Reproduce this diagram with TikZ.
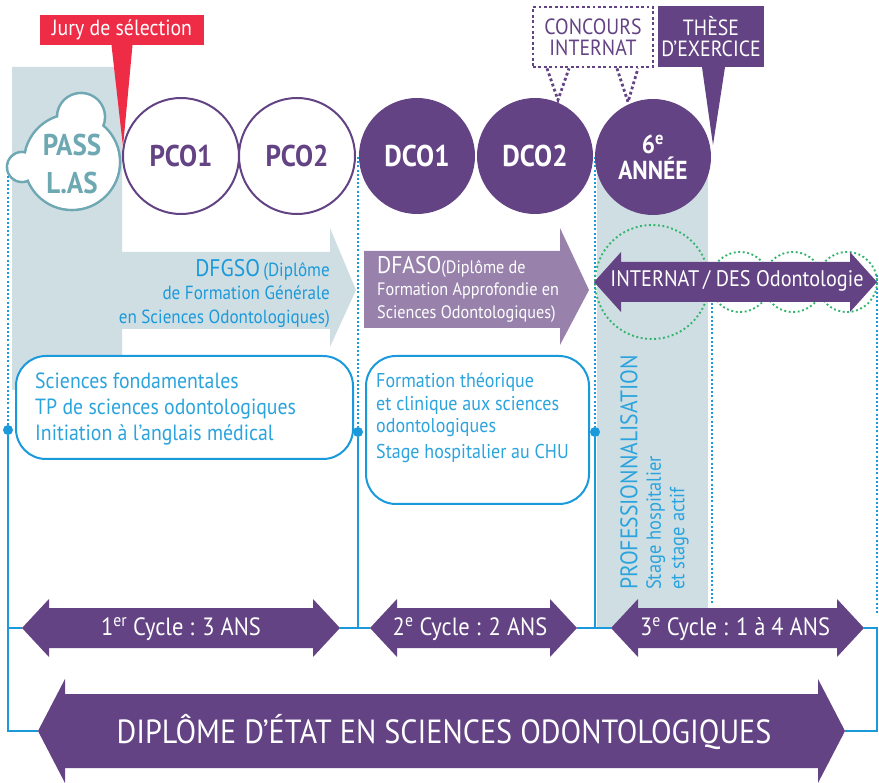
\documentclass[tikz,border=0pt]{standalone}
\usepackage{fontspec}
\setmainfont{PT Sans}[FakeStretch=0.9]
\usetikzlibrary{positioning,calc}

\definecolor{dcpurple}{HTML}{634383}
\definecolor{dclilac}{HTML}{9882AC}
\definecolor{dcgrey}{HTML}{CFDEE3}
\definecolor{dcblue}{HTML}{1B9ADB}
\definecolor{dctext}{HTML}{2BA4DE}
\definecolor{dcteal}{HTML}{6EA8B2}
\definecolor{dcred}{HTML}{EE2C46}
\definecolor{dcgreen}{HTML}{33B46E}

\newcommand{\fs}[1]{\fontsize{#1}{1.2\dimexpr#1pt\relax}\selectfont}

% double arrow: colour, left tip x, right tip x, y, head length, head half, body half
\newcommand{\dblarrow}[7]{%
	\fill[#1] (#2,#4) -- (#2+#5,#4-#6) -- (#2+#5,#4-#7) -- (#3-#5,#4-#7) -- (#3-#5,#4-#6) -- (#3,#4)
		-- (#3-#5,#4+#6) -- (#3-#5,#4+#7) -- (#2+#5,#4+#7) -- (#2+#5,#4+#6) -- cycle;}

\tikzset{
	opencirc/.style={circle, draw=dcpurple, line width=2pt, fill=white, minimum size=116pt, inner sep=0pt, text=dcpurple, font=\fs{30}\bfseries},
	fullcirc/.style={circle, fill=dcpurple, minimum size=116pt, inner sep=0pt, text=white, font=\fs{30}\bfseries},
	dotline/.style={draw=dcblue, line width=2.2pt, dash pattern=on 2pt off 2.2pt},
	greendots/.style={draw=dcgreen, line width=1.9pt, dash pattern=on 1.9pt off 2.6pt},
	purpledots/.style={draw=dcpurple, line width=2.8pt, dash pattern=on 2.8pt off 2.6pt},
	link/.style={draw=dcblue, line width=1.8pt},
	joint/.style={circle, fill=dcblue, minimum size=10pt, inner sep=0pt},
	infobox/.style={draw=dcblue, line width=2pt, fill=white, rounded corners=30pt, anchor=north west, inner sep=0pt},
	boxtext/.style={text=dctext, font=\fontsize{22}{26}\selectfont, align=left, anchor=north west, inner sep=0pt},
	arrowtext/.style={text=white, font=\fs{25}, inner sep=0pt},
	callout/.style={inner sep=0pt, align=center, font=\fontsize{22}{21}\selectfont},
}

\begin{document}
\begin{tikzpicture}[x=1pt, y=-1pt]
	\useasboundingbox (0,0) rectangle (879,783);

	% Grey bands
	\fill[dcgrey] (12,67) -- (122,67) -- (122,252) -- (330,252) -- (330,228) -- (356,290) -- (330,347)
		-- (330,329) -- (122,329) -- (122,390) -- (12,390) -- cycle;
	\fill[dcgrey] (597,156) rectangle (708,628);

	% Joints and dotted guides
	\node[joint] (j1) at (8,430) {};
	\node[joint] (j2) at (358,432) {};
	\node[joint] (j3) at (595,432) {};
	\coordinate (g1) at (8,163);
	\coordinate (g2) at (358,157);
	\coordinate (g3) at (595,157);
	\coordinate (g4t) at (712,303);
	\coordinate (g4b) at (712,603);
	\coordinate (g5t) at (877,275);
	\coordinate (g5b) at (877,615);
	\draw[dotline] (g1) -- (j1);
	\draw[dotline] (g2) -- (j2);
	\draw[dotline] (g3) -- (j3);
	\draw[dotline] (g4t) -- (g4b);
	\draw[dotline] (g5t) -- (g5b);

	% Year circles
	\node[opencirc] (pco1) at (181,156) {PCO1};
	\node[opencirc] (pco2) at (297,156) {PCO2};
	\node[fullcirc] (dco1) at (417,156) {DCO1};
	\node[fullcirc] (dco2) at (535,156) {DCO2};
	\node[fullcirc, align=center, font=\fontsize{26}{26}\selectfont\bfseries] (annee) at (653,157) {6\textsuperscript{e}\\ANNÉE};

	% PASS / L.AS cloud
	\foreach \cx/\cy/\r in {72/162/48, 81/117/24, 22/167/15}
		\draw[dcteal, line width=2.6pt] (\cx,\cy) circle[radius=\r];
	\foreach \cx/\cy/\r in {72/162/48, 81/117/24, 22/167/15}
		\fill[white] (\cx,\cy) circle[radius=\r-1.3];
	\node[text=dcteal, font=\fontsize{30}{38}\selectfont\bfseries, align=center] (pass) at (72,164) {PASS\\L.AS};

	% Internat bubbles
	\draw[greendots] (652,282) circle[radius=57];
	\foreach \cx in {740,793,847}
		\draw[greendots] (\cx,282) circle[radius=30];
	\dblarrow{dcpurple}{594}{877}{282}{27}{30}{20}
	\node[arrowtext, font=\fs{22.5}] (internat) at (737,281) {INTERNAT\,/ DES Odontologie};

	% Diploma arrows
	\fill[dclilac] (364,251) -- (560,251) -- (560,228) -- (589,290) -- (560,345) -- (560,328) -- (364,328) -- cycle;
	\node[anchor=north east, align=right, text=dcblue, font=\fontsize{19}{23.5}\selectfont, inner sep=0pt] (dfgso) at (330,259)
		{{\fs{24}DFGSO}\,(Diplôme\\de Formation Générale\\en Sciences Odontologiques)};
	\node[anchor=north west, align=left, text=white, font=\fontsize{18}{22.5}\selectfont, inner sep=0pt] (dfaso) at (377,256)
		{{\fs{24}DFASO}(Diplôme de\\Formation Approfondie en\\Sciences Odontologiques)};

	% Content boxes
	\node[infobox, minimum width=337pt, minimum height=103pt] (box1) at (15,355) {};
	\node[infobox, minimum width=223pt, minimum height=148pt] (box2) at (365,355) {};
	\node[boxtext] (txt1) at (35,373) {Sciences fondamentales\\TP de sciences odontologiques\\Initiation à l’anglais médical};
	\node[boxtext, font=\fontsize{20}{22.5}\selectfont] (txt2) at (376,373) {Formation théorique\\et clinique aux sciences\\odontologiques};
	\node[boxtext, font=\fontsize{20}{22.5}\selectfont, below=7pt of txt2.south west, anchor=north west] (txt3) {Stage hospitalier au CHU};

	% Professionnalisation
	\node[rotate=90, anchor=north west, align=left, text=dctext, inner sep=0pt, font=\fontsize{20.5}{23.5}\selectfont] (pro) at (620,590)
		{{\fs{24}PROFESSIONNALISATION}\\Stage hospitalier\\et stage actif};

	% Cycle arrows
	\coordinate (c1l) at (22,628);
	\coordinate (c1r) at (340,628);
	\coordinate (c2l) at (370,628);
	\coordinate (c2r) at (577,628);
	\coordinate (c3l) at (611,628);
	\coordinate (c3r) at (864,628);
	\coordinate (dl) at (38,731);
	\coordinate (dr) at (845,731);
	\coordinate (rc) at (877,628);
	\dblarrow{dcpurple}{22}{340}{628}{27}{29}{20}
	\dblarrow{dcpurple}{370}{577}{628}{27}{29}{20}
	\dblarrow{dcpurple}{611}{864}{628}{27}{29}{20}
	\dblarrow{dcpurple}{38}{845}{731}{27}{52}{37}
	\node[arrowtext] (cyc1) at (181,629) {1\textsuperscript{er} Cycle : 3 ANS};
	\node[arrowtext] (cyc2) at (470,629) {2\textsuperscript{e} Cycle : 2 ANS};
	\node[arrowtext] (cyc3) at (735,629) {3\textsuperscript{e} Cycle : 1 à 4 ANS};
	\node[arrowtext, font=\fs{33.5}] (dipl) at (444,732) {DIPLÔME D'ÉTAT EN SCIENCES ODONTOLOGIQUES};

	% Solid links
	\draw[link] (j1) |- (dl);
	\draw[link] (j1 |- c1l) -- (c1l);
	\draw[link] (j2) -- (j2 |- c1r);
	\draw[link] (c1r) -- (c2l);
	\draw[link] (j3) -- (j3 |- c2r);
	\draw[link] (c2r) -- (c3l);
	\draw[link] (c3r) -- (rc) |- (dr);

	% Callouts
	\node[callout, fill=dcred, text=white, minimum width=164pt, minimum height=30pt] (jury) at (122,30) {Jury de sélection};
	\coordinate (jurytip) at (123,147);
	\fill[dcred] ([xshift=-10.5pt]jury.south) -- ([xshift=10.5pt]jury.south) -- (jurytip) -- cycle;

	\node[callout, purpledots, text=dcpurple, minimum width=120pt, minimum height=60pt] (concours) at (593,37) {CONCOURS\\INTERNAT};
	\coordinate (cctip1) at (558,100);
	\coordinate (cctip2) at (628,102);
	\draw[purpledots] ([xshift=-46pt]concours.south) -- (cctip1) -- ([xshift=-24pt]concours.south);
	\draw[purpledots] ([xshift=24pt]concours.south) -- (cctip2) -- ([xshift=45pt]concours.south);

	\node[callout, fill=dcpurple, text=white, minimum width=106pt, minimum height=61pt] (these) at (711,36.5) {THÈSE\\D’EXERCICE};
	\coordinate (thtip) at (713,145);
	\fill[dcpurple] ([xshift=-9pt]these.south) -- ([xshift=14pt]these.south) -- (thtip) -- cycle;
\end{tikzpicture}
\end{document}
